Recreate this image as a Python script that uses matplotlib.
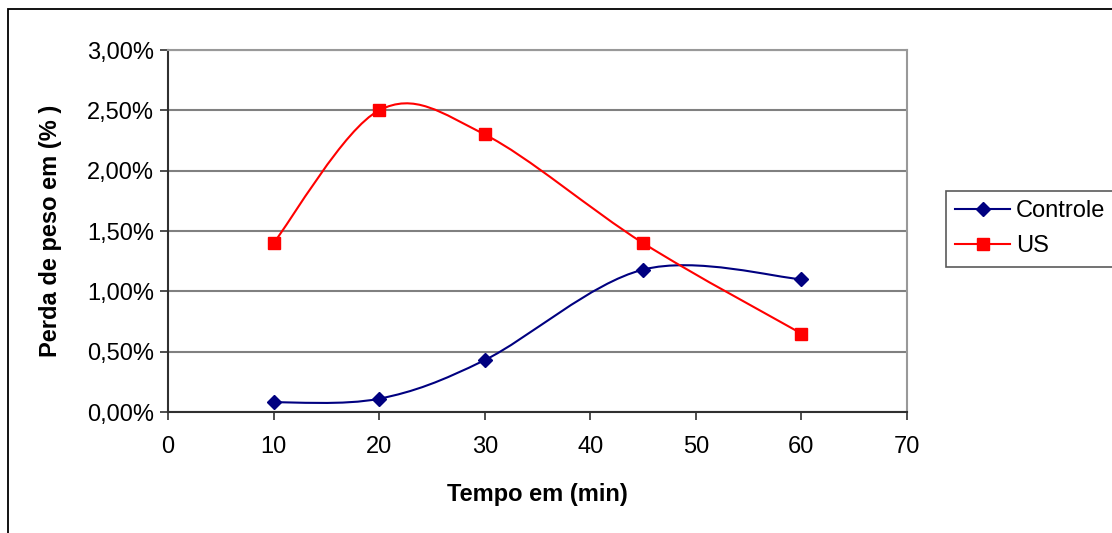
import matplotlib.pyplot as plt
import numpy as np
from matplotlib.path import Path
from matplotlib.patches import PathPatch, Rectangle
from matplotlib.lines import Line2D
from matplotlib.ticker import FuncFormatter, MultipleLocator

plt.rcParams['font.family'] = ['Liberation Sans', 'DejaVu Sans']

tempo = [10, 20, 30, 45, 60]
controle = [0.08, 0.11, 0.43, 1.18, 1.10]   # perda de peso (%)
us = [1.40, 2.50, 2.30, 1.40, 0.65]         # perda de peso (%)


def smooth_path(xs, ys):
    # curva suavizada estilo Excel: Bezier cubica com tangentes de Catmull-Rom
    p = np.column_stack([xs, ys]).astype(float)
    n = len(p)
    verts = [p[0]]
    codes = [Path.MOVETO]
    for i in range(n - 1):
        prev = p[i - 1] if i > 0 else p[i]
        nxt = p[i + 2] if i + 2 < n else p[i + 1]
        c1 = p[i] + (p[i + 1] - prev) / 6.0
        c2 = p[i + 1] - (nxt - p[i]) / 6.0
        verts += [c1, c2, p[i + 1]]
        codes += [Path.CURVE4] * 3
    return Path(verts, codes)


fig = plt.figure(figsize=(11.12, 5.33), dpi=100)
ax = fig.add_axes([168 / 1112, 1 - 412 / 533, (907 - 168) / 1112, (412 - 50) / 533])

# moldura do grafico
fig.patches.append(Rectangle((8 / 1112, -0.1), 1.2, 1.1 - 9 / 533,
                             transform=fig.transFigure, fill=False,
                             edgecolor='black', linewidth=1.3, zorder=0))

series = [
    ('Controle', controle, '#000080', 'D', 7.5),
    ('US', us, '#FF0000', 's', 8.5),
]
handles = []
for nome, vals, cor, mk, ms in series:
    ax.add_patch(PathPatch(smooth_path(tempo, vals), fill=False,
                           edgecolor=cor, linewidth=1.5, zorder=3))
    ax.plot(tempo, vals, linestyle='none', marker=mk, markersize=ms,
            color=cor, zorder=4)
    handles.append(Line2D([], [], color=cor, linewidth=1.5, marker=mk,
                          markersize=ms, label=nome))

ax.set_xlim(0, 70)
ax.set_ylim(0, 3.0)
ax.xaxis.set_major_locator(MultipleLocator(10))
ax.yaxis.set_major_locator(MultipleLocator(0.5))
ax.yaxis.set_major_formatter(FuncFormatter(lambda v, _: f'{v:.2f}%'.replace('.', ',')))

ax.grid(axis='y', color='#808080', linewidth=1.5)
ax.set_axisbelow(True)
for s in ['top', 'right']:
    ax.spines[s].set_color('#999999')
    ax.spines[s].set_linewidth(1.5)
for s in ['left', 'bottom']:
    ax.spines[s].set_color('#303030')
    ax.spines[s].set_linewidth(1.5)

ax.tick_params(axis='both', direction='out', length=6, width=1.2,
               color='#303030', labelsize=17, pad=4)
ax.tick_params(axis='x', pad=11)

ax.set_xlabel('Tempo em (min)', fontsize=17, fontweight='bold', labelpad=18)
ax.set_ylabel('Perda de peso em (% )', fontsize=17, fontweight='bold', labelpad=18)

leg = fig.legend(handles=handles, loc='upper left',
                 bbox_to_anchor=(946 / 1112, 1 - 191 / 533),
                 fontsize=17, frameon=True, fancybox=False,
                 handlelength=2.3, handletextpad=0.25, borderpad=0.4,
                 labelspacing=0.55, borderaxespad=0)
leg.get_frame().set_edgecolor('#303030')
leg.get_frame().set_linewidth(1.2)

fig.savefig('out.png', dpi=100)
